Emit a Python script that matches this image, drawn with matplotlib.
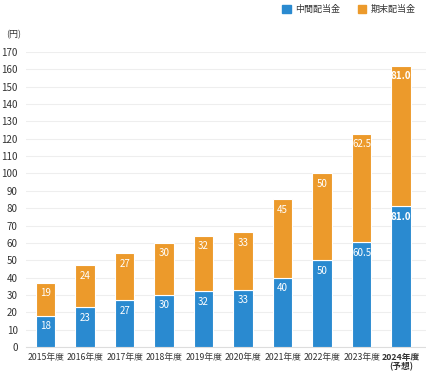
import matplotlib
matplotlib.use("Agg")
import matplotlib.pyplot as plt

plt.rcParams['font.family'] = ['Noto Sans CJK JP', 'DejaVu Sans']

# データ
years = ["2015年度", "2016年度", "2017年度", "2018年度", "2019年度",
         "2020年度", "2021年度", "2022年度", "2023年度", "2024年度\n(予想)"]
interim = [18, 23, 27, 30, 32, 33, 40, 50, 60.5, 81.0]
year_end = [19, 24, 27, 30, 32, 33, 45, 50, 62.5, 81.0]
interim_txt = ["18", "23", "27", "30", "32", "33", "40", "50", "60.5", "81.0"]
year_end_txt = ["19", "24", "27", "30", "32", "33", "45", "50", "62.5", "81.0"]

blue = "#2a8ad0"
orange = "#ec9a2b"

fig = plt.figure(figsize=(4.26, 3.73), dpi=100)
ax = fig.add_axes([0.061, 0.0697, 0.939, 0.791])

x = range(len(years))
ax.bar(x, interim, width=0.5, color=blue, edgecolor="white", linewidth=0.8, zorder=3)
ax.bar(x, year_end, width=0.5, bottom=interim, color=orange, edgecolor="white",
       linewidth=0.8, zorder=3)

# 値ラベル
for i in x:
    bold = "bold" if i == len(years) - 1 else "normal"
    ax.annotate(interim_txt[i], (i, interim[i]), xytext=(0, -4), textcoords="offset points",
                ha="center", va="top", color="white", fontsize=7, fontweight=bold, zorder=4)
    ax.annotate(year_end_txt[i], (i, interim[i] + year_end[i]), xytext=(0, -4),
                textcoords="offset points", ha="center", va="top", color="white",
                fontsize=7, fontweight=bold, zorder=4)

ax.set_xlim(-0.496, 9.63)
ax.set_ylim(0, 170)
ax.set_yticks(range(0, 171, 10))
ax.set_xticks(list(x))
ax.set_xticklabels(years, linespacing=1.1)
ax.tick_params(axis="both", length=0, colors="#333333")
ax.tick_params(axis="x", pad=4, labelsize=6.3)
ax.tick_params(axis="y", pad=6, labelsize=7)
ax.get_xticklabels()[-1].set_fontweight("bold")
ax.grid(axis="y", color="#eeeeee", linewidth=0.8, zorder=0)
for s in ["top", "right", "left"]:
    ax.spines[s].set_visible(False)
ax.spines["bottom"].set_color("#dddddd")

fig.text(0.014, 0.9, "(円)", fontsize=6.5, color="#333333")

# 凡例
fig.patches.append(plt.Rectangle((0.663, 0.965), 0.02, 0.022, color=blue,
                                 transform=fig.transFigure, figure=fig))
fig.text(0.693, 0.976, "中間配当金", fontsize=6.5, va="center", color="#333333")
fig.patches.append(plt.Rectangle((0.84, 0.965), 0.02, 0.022, color=orange,
                                 transform=fig.transFigure, figure=fig))
fig.text(0.87, 0.976, "期末配当金", fontsize=6.5, va="center", color="#333333")

fig.savefig("out.png", dpi=100)
